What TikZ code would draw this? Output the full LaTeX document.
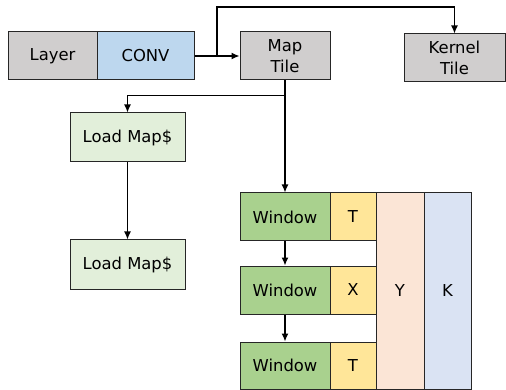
\documentclass[tikz,border=0pt]{standalone}
\usepackage{fontspec}
\setmainfont{DejaVu Sans}
\usetikzlibrary{arrows.meta,calc}

\definecolor{tilegray}{HTML}{D0CECE}
\definecolor{convblue}{HTML}{BDD7EE}
\definecolor{loadgreen}{HTML}{E2EFDA}
\definecolor{wingreen}{HTML}{A9D18E}
\definecolor{tyellow}{HTML}{FFE699}
\definecolor{ypeach}{HTML}{FBE5D6}
\definecolor{klav}{HTML}{DAE3F3}
\definecolor{edge}{HTML}{262626}

\tikzset{
  box/.style={draw=edge, line width=1pt, inner sep=0pt, align=center,
    font=\fontsize{16.4}{20.7}\selectfont},
  link/.style={line width=1.3pt, -{Latex[length=8pt,width=7pt]}},
}

\begin{document}
\begin{tikzpicture}[x=1pt, y=-1pt]
	\useasboundingbox (0,0) rectangle (506,390);

	% top row
	\node[box, fill=tilegray, minimum width=89, minimum height=48] (layer) at (52.5, 56) {Layer};
	\node[box, fill=convblue, minimum width=97, minimum height=48] (conv) at (145.5, 56) {CONV};
	\node[box, fill=tilegray, minimum width=90, minimum height=48] (map) at (285, 56) {Map\\Tile};
	\node[box, fill=tilegray, minimum width=101, minimum height=48] (kernel) at (454.5, 58) {Kernel\\Tile};

	% load column
	\node[box, fill=loadgreen, minimum width=115, minimum height=49] (load1) at (127.5, 137.5) {Load Map\$};
	\node[box, fill=loadgreen, minimum width=115, minimum height=49] (load2) at (127.5, 264.5) {Load Map\$};

	% windows
	\node[box, fill=ypeach, minimum width=48, minimum height=196] (y) at (400, 291) {Y};
	\node[box, fill=klav, minimum width=47, minimum height=196] (k) at (447.5, 291) {K};
	\node[box, fill=wingreen, minimum width=90, minimum height=48] (win1) at (285, 217) {Window};
	\node[box, fill=tyellow, minimum width=46, minimum height=48] (t1) at (353, 217) {T};
	\node[box, fill=wingreen, minimum width=90, minimum height=48] (win2) at (285, 290) {Window};
	\node[box, fill=tyellow, minimum width=46, minimum height=48] (x) at (353, 290) {X};
	\node[box, fill=wingreen, minimum width=90, minimum height=47] (win3) at (285, 365.5) {Window};
	\node[box, fill=tyellow, minimum width=46, minimum height=47] (t3) at (353, 365.5) {T};

	% connectors
	\coordinate (split) at ($(conv.east)!0.5!(map.west)$);
	\draw[link] (conv.east) -- (map.west);
	\draw[link] (split) -- ++(0,-49) -| (kernel.north);
	\draw[link] (map.south) -- ++(0,15) -| (load1.north);
	\draw[link] (map.south) -- (win1.north);
	\draw[link] (load1.south) -- (load2.north);
	\draw[link] (win1.south) -- (win2.north);
	\draw[link] (win2.south) -- (win3.north);
\end{tikzpicture}
\end{document}
